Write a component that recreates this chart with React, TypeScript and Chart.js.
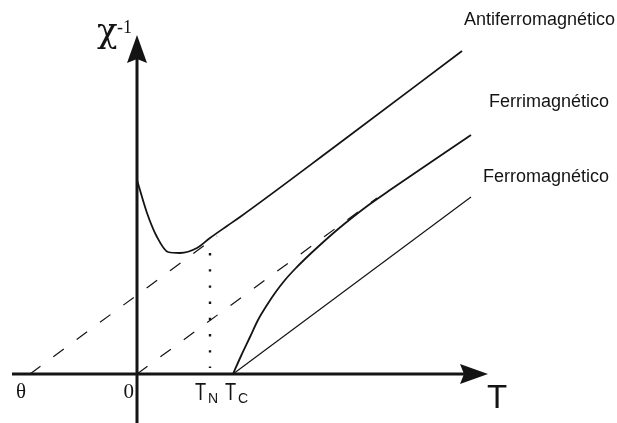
import React, { useEffect, useRef } from 'react';
import { Chart, registerables } from 'chart.js';

Chart.register(...registerables);

// ---- Data (arbitrary units: T horizontally, 1/chi vertically) ----
const axisRangeT = [-137, 480];
const axisRangeChi = [-49, 374];
const axisLineT = [-125, 351]; // x axis drawn from / arrow tip
const axisLineChi = [-49, 339]; // y axis drawn from / arrow tip

const thetaT = -107;
const neelT = 73;
const curieT = 96;

const antiferroT = [0, 10, 20, 31, 43, 60, 73, 90, 103, 200, 325];
const antiferroChi = [194, 161, 137, 122, 121, 126, 136, 148, 157, 229, 323];

const antiferroAsymT = [thetaT, 80];
const antiferroAsymChi = [0, 138];

const ferriT = [96, 104, 113, 121, 130, 138, 148, 158, 168, 183, 200, 216, 233, 253, 334];
const ferriChi = [0, 18, 37, 54, 69, 81, 94, 105, 115, 129, 144, 157, 170, 184, 239];

const ferriAsymT = [0, 240];
const ferriAsymChi = [0, 176];

const ferroT = [curieT, 334];
const ferroChi = [0, 177];

const neelMarkT = [neelT, neelT];
const neelMarkChi = [121, 6];

const seriesLabels = ['Antiferromagnético', 'Ferrimagnético', 'Ferromagnético'];

const INK = '#141414';

const pts = (xs: number[], ys: number[]) => xs.map((x, i) => ({ x, y: ys[i] }));

const decor = {
  id: 'decor',
  beforeDatasetsDraw(chart: any) {
    const { ctx, scales } = chart;
    const sx = scales.x, sy = scales.y;
    const ox = sx.getPixelForValue(0);
    const oy = sy.getPixelForValue(0);
    ctx.save();
    ctx.strokeStyle = INK;
    ctx.fillStyle = INK;
    ctx.lineWidth = 3;
    // x axis
    const xL = sx.getPixelForValue(axisLineT[0]);
    const xTip = sx.getPixelForValue(axisLineT[1]);
    ctx.beginPath();
    ctx.moveTo(xL, oy);
    ctx.lineTo(xTip - 20, oy);
    ctx.stroke();
    ctx.beginPath();
    ctx.moveTo(xTip, oy);
    ctx.lineTo(xTip - 28, oy - 10);
    ctx.lineTo(xTip - 24, oy);
    ctx.lineTo(xTip - 28, oy + 10);
    ctx.closePath();
    ctx.fill();
    // y axis
    const yB = sy.getPixelForValue(axisLineChi[0]);
    const yTip = sy.getPixelForValue(axisLineChi[1]);
    ctx.beginPath();
    ctx.moveTo(ox, yB);
    ctx.lineTo(ox, yTip + 20);
    ctx.stroke();
    ctx.beginPath();
    ctx.moveTo(ox, yTip);
    ctx.lineTo(ox - 10, yTip + 28);
    ctx.lineTo(ox, yTip + 24);
    ctx.lineTo(ox + 10, yTip + 28);
    ctx.closePath();
    ctx.fill();
    ctx.restore();
  },
  afterDatasetsDraw(chart: any) {
    const { ctx, scales } = chart;
    const sx = scales.x, sy = scales.y;
    const ox = sx.getPixelForValue(0);
    const oy = sy.getPixelForValue(0);
    const yTip = sy.getPixelForValue(axisLineChi[1]);
    const xTip = sx.getPixelForValue(axisLineT[1]);
    ctx.save();
    ctx.fillStyle = INK;
    ctx.textBaseline = 'alphabetic';
    const serif = '"Liberation Serif", "DejaVu Serif", serif';
    const sans = '"Liberation Sans", Arial, sans-serif';

    // y axis title chi^-1
    ctx.textAlign = 'left';
    ctx.font = `34px "DejaVu Serif", serif`;
    ctx.fillText('χ', ox - 40, yTip + 7);
    ctx.font = `18px ${serif}`;
    ctx.fillText('-1', ox - 20, yTip - 2);

    // x axis title T
    ctx.font = `33px ${sans}`;
    ctx.fillText('T', xTip - 1, oy + 34);

    // theta and 0
    ctx.font = `21px ${serif}`;
    ctx.textAlign = 'center';
    ctx.fillText('θ', sx.getPixelForValue(thetaT) - 9, oy + 24);
    ctx.textAlign = 'right';
    ctx.fillText('0', ox - 3, oy + 24);

    // T_N and T_C
    const sub = (x: number, s: string) => {
      ctx.save();
      ctx.textAlign = 'left';
      ctx.translate(x, oy + 26);
      ctx.scale(0.76, 1);
      ctx.font = `24px ${sans}`;
      ctx.fillText('T', 0, 0);
      ctx.restore();
      ctx.font = `14px ${sans}`;
      ctx.textAlign = 'left';
      ctx.fillText(s, x + 13, oy + 29);
    };
    sub(sx.getPixelForValue(neelT) - 15, 'N');
    sub(sx.getPixelForValue(curieT) - 8, 'C');

    // series labels
    ctx.font = `18px ${sans}`;
    ctx.textAlign = 'right';
    ctx.fillText(seriesLabels[0], 615, 25);
    ctx.fillText(seriesLabels[1], 609, 107);
    ctx.fillText(seriesLabels[2], 609, 182);
    ctx.restore();
  },
};

export default function App() {
  const ref = useRef<HTMLCanvasElement>(null);
  useEffect(() => {
    const canvas = ref.current!;
    const base = { showLine: true, pointRadius: 0, pointHoverRadius: 0, borderColor: INK, backgroundColor: INK, fill: false };
    const chart = new Chart(canvas, {
      type: 'scatter',
      data: {
        datasets: [
          { ...base, label: 'Antiferro asymptote', data: pts(antiferroAsymT, antiferroAsymChi), borderWidth: 1.2, borderDash: [13, 16] },
          { ...base, label: 'Ferri asymptote', data: pts(ferriAsymT, ferriAsymChi), borderWidth: 1.2, borderDash: [13, 16] },
          { ...base, label: 'T_N', data: pts(neelMarkT, neelMarkChi), borderWidth: 2.4, borderDash: [2.4, 13.8] },
          { ...base, label: seriesLabels[0], data: pts(antiferroT, antiferroChi), borderWidth: 1.8, cubicInterpolationMode: 'monotone' },
          { ...base, label: seriesLabels[1], data: pts(ferriT, ferriChi), borderWidth: 1.8, cubicInterpolationMode: 'monotone' },
          { ...base, label: seriesLabels[2], data: pts(ferroT, ferroChi), borderWidth: 1.2 },
        ] as any,
      },
      options: {
        animation: false,
        responsive: false,
        maintainAspectRatio: false,
        events: [],
        layout: { padding: 0 },
        plugins: { legend: { display: false }, tooltip: { enabled: false } },
        scales: {
          x: { type: 'linear', min: axisRangeT[0], max: axisRangeT[1], display: false },
          y: { type: 'linear', min: axisRangeChi[0], max: axisRangeChi[1], display: false },
        },
      },
      plugins: [decor],
    });
    return () => chart.destroy();
  }, []);
  return (
    <div style={{ position: 'fixed', left: 0, top: 0, width: 617, height: 423, background: '#fff' }}>
      <canvas ref={ref} width={617} height={423} style={{ display: 'block' }} />
    </div>
  );
}
